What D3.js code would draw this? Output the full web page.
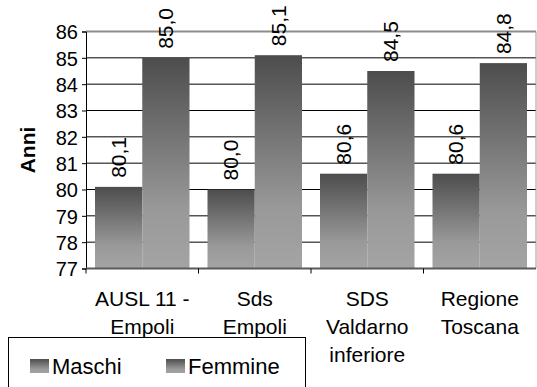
<!DOCTYPE html>
<html>
<head>
<meta charset="utf-8">
<script src="https://cdn.jsdelivr.net/npm/d3@7"></script>
<style>
  body { margin: 0; background: #fff; }
  svg { display: block; font-family: "Liberation Sans", Arial, sans-serif; }
</style>
</head>
<body>
<div id="chart"></div>
<script>
var categories = ["AUSL 11 - Empoli", "Sds Empoli", "SDS Valdarno inferiore", "Regione Toscana"];
var categoryLines = [["AUSL 11 -", "Empoli"], ["Sds", "Empoli"], ["SDS", "Valdarno", "inferiore"], ["Regione", "Toscana"]];
var series = ["Maschi", "Femmine"];
var maschi = [80.1, 80.0, 80.6, 80.6];
var femmine = [85.0, 85.1, 84.5, 84.8];
var yTicks = [77, 78, 79, 80, 81, 82, 83, 84, 85, 86];

var W = 537, H = 387;
var plotLeft = 86, plotRight = 536, plotTop = 31.5, plotBottom = 268.5;

var svg = d3.select("#chart").append("svg")
  .attr("width", W)
  .attr("height", H);

var defs = svg.append("defs");
var grad = defs.append("linearGradient")
  .attr("id", "barGrad")
  .attr("x1", 0).attr("y1", 0).attr("x2", 0).attr("y2", 1);
grad.append("stop").attr("offset", 0).attr("stop-color", "#4d4d4d");
grad.append("stop").attr("offset", 0.72).attr("stop-color", "#999999");
grad.append("stop").attr("offset", 1).attr("stop-color", "#a4a4a4");

var y = d3.scaleLinear().domain([77, 86]).range([plotBottom, plotTop]);
var x0 = d3.scaleBand().domain(categories).range([plotLeft, plotRight]).padding(0);
var x1 = d3.scaleBand().domain(series).range([9, x0.bandwidth() - 9]).padding(0);

// grid lines
svg.append("g").selectAll("line")
  .data(yTicks.filter(function(d){ return d > 77 && d < 86; }))
  .enter().append("line")
  .attr("x1", plotLeft).attr("x2", plotRight)
  .attr("y1", function(d){ return y(d); })
  .attr("y2", function(d){ return y(d); })
  .attr("stroke", "#000")
  .attr("stroke-width", 1);

// top and right border
svg.append("line")
  .attr("x1", plotLeft).attr("x2", plotRight)
  .attr("y1", y(86)).attr("y2", y(86))
  .attr("stroke", "#8c8c8c").attr("stroke-width", 2);
svg.append("line")
  .attr("x1", plotRight).attr("x2", plotRight)
  .attr("y1", y(86)).attr("y2", plotBottom)
  .attr("stroke", "#9a9a9a").attr("stroke-width", 1);

// bars
var rows = categories.map(function(c, i){
  return { cat: c, values: [{ s: "Maschi", v: maschi[i] }, { s: "Femmine", v: femmine[i] }] };
});

var groups = svg.append("g").selectAll("g")
  .data(rows)
  .enter().append("g")
  .attr("transform", function(d){ return "translate(" + x0(d.cat) + ",0)"; });

groups.selectAll("rect")
  .data(function(d){ return d.values; })
  .enter().append("rect")
  .attr("x", function(d){ return x1(d.s); })
  .attr("width", x1.bandwidth())
  .attr("y", function(d){ return y(d.v); })
  .attr("height", function(d){ return plotBottom - y(d.v); })
  .attr("fill", "url(#barGrad)");

groups.selectAll("text")
  .data(function(d){ return d.values; })
  .enter().append("text")
  .attr("transform", function(d){
    return "translate(" + (x1(d.s) + x1.bandwidth() / 2) + "," + (y(d.v) - 9) + ") rotate(-90)";
  })
  .attr("dy", "0.35em")
  .attr("text-anchor", "start")
  .attr("font-size", 21)
  .attr("fill", "#000")
  .text(function(d){ return d.v.toFixed(1).replace(".", ","); });

// y axis
var yAxis = svg.append("g")
  .attr("transform", "translate(" + plotLeft + ",0)")
  .call(d3.axisLeft(y).tickValues(yTicks).tickSize(4).tickPadding(4).tickFormat(d3.format("d")));
yAxis.select(".domain").attr("stroke", "#000");
yAxis.selectAll(".tick line").attr("stroke", "#000");
yAxis.selectAll(".tick text")
  .attr("font-size", 20)
  .attr("font-family", "Liberation Sans, Arial, sans-serif")
  .attr("fill", "#000")
  .attr("dy", "0.36em");

// x axis line and ticks
svg.append("line")
  .attr("x1", plotLeft).attr("x2", plotRight)
  .attr("y1", plotBottom).attr("y2", plotBottom)
  .attr("stroke", "#5a5a5a").attr("stroke-width", 2);
svg.append("g").selectAll("line")
  .data(categories)
  .enter().append("line")
  .attr("x1", function(d){ return x0(d); })
  .attr("x2", function(d){ return x0(d); })
  .attr("y1", plotBottom).attr("y2", plotBottom + 5)
  .attr("stroke", "#000");

// category labels
svg.append("g").selectAll("text")
  .data(categories)
  .enter().append("text")
  .attr("text-anchor", "middle")
  .attr("font-size", 21)
  .each(function(d, i){
    var t = d3.select(this);
    categoryLines[i].forEach(function(line, k){
      t.append("tspan")
        .attr("x", x0(d) + x0.bandwidth() / 2)
        .attr("y", 306 + k * 28)
        .text(line);
    });
  });

// y axis title
svg.append("text")
  .attr("transform", "translate(35,150) rotate(-90)")
  .attr("text-anchor", "middle")
  .attr("font-size", 21)
  .attr("font-weight", "bold")
  .text("Anni");

// legend
var legend = svg.append("g");
legend.append("rect")
  .attr("x", 8.5).attr("y", 337.5)
  .attr("width", 297).attr("height", 60)
  .attr("fill", "#fff")
  .attr("stroke", "#000");
var legendX = [30, 166];
var items = legend.selectAll("g.item")
  .data(series)
  .enter().append("g")
  .attr("class", "item")
  .attr("transform", function(d, i){ return "translate(" + legendX[i] + ",359)"; });
items.append("rect")
  .attr("width", 19).attr("height", 14)
  .attr("fill", "url(#barGrad)");
items.append("text")
  .attr("x", 22).attr("y", 15)
  .attr("font-size", 22)
  .text(function(d){ return d; });
</script>
</body>
</html>
